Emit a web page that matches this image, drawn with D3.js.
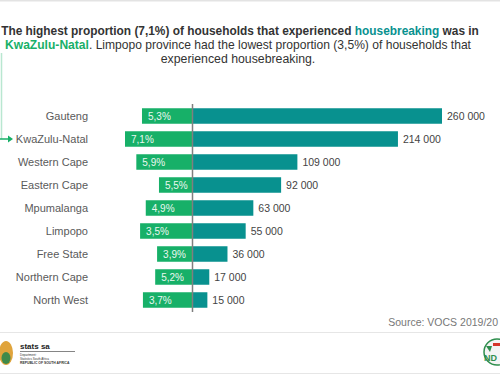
<!DOCTYPE html>
<html>
<head>
<meta charset="utf-8">
<script src="https://cdn.jsdelivr.net/npm/d3@7"></script>
<style>
  body { margin: 0; background: #fff; }
  svg { display: block; font-family: "Liberation Sans", Arial, sans-serif; }
</style>
</head>
<body>
<svg id="chart" width="500" height="375"></svg>
<script>
const provinces = ["Gauteng", "KwaZulu-Natal", "Western Cape", "Eastern Cape", "Mpumalanga",
  "Limpopo", "Free State", "Northern Cape", "North West"];
const households = [260000, 214000, 109000, 92000, 63000, 55000, 36000, 17000, 15000];
const pctLabels = ["5,3%", "7,1%", "5,9%", "5,5%", "4,9%", "3,5%", "3,9%", "5,2%", "3,7%"];
// green bar lengths as drawn (in % units) - they don't all match the labels in the original
const pctBars = [5.3, 7.1, 5.9, 3.5, 4.9, 5.5, 3.7, 3.9, 5.2];
const valueLabels = ["260 000", "214 000", "109 000", "92 000", "63 000", "55 000", "36 000", "17 000", "15 000"];

const green = "#17b068", teal = "#08918f";

const svg = d3.select("#chart");

// frame lines
svg.append("line").attr("x1", 0).attr("x2", 500).attr("y1", 0.5).attr("y2", 0.5)
  .attr("stroke", "#e3e3e3").attr("stroke-width", 2);
svg.append("line").attr("x1", 0).attr("x2", 500).attr("y1", 332.5).attr("y2", 332.5)
  .attr("stroke", "#e6e6e6");
svg.append("line").attr("x1", 0).attr("x2", 500).attr("y1", 373.5).attr("y2", 373.5)
  .attr("stroke", "#e6e6e6");

// title - shrink font so each line takes the width it has in the original
function fit(sel, width, size) {
  const w = sel.node().getComputedTextLength();
  if (w > width) sel.style("font-size", (size * width / w) + "px");
}

const t1 = svg.append("text").attr("x", 240).attr("y", 35).attr("text-anchor", "middle")
  .style("font-size", "12.3px").style("font-weight", "bold").attr("fill", "#333");
t1.append("tspan").text("The highest proportion (7,1%) of households that experienced ");
t1.append("tspan").attr("fill", teal).text("housebreaking");
t1.append("tspan").text(" was in");
fit(t1, 478, 12.3);

const t2 = svg.append("text").attr("x", 238).attr("y", 49).attr("text-anchor", "middle")
  .style("font-size", "12.3px").attr("fill", "#333");
t2.append("tspan").attr("fill", green).style("font-weight", "bold").text("KwaZulu-Natal");
t2.append("tspan").text(". Limpopo province had the lowest proportion (3,5%) of households that");
fit(t2, 466, 12.3);

svg.append("text").attr("x", 238).attr("y", 63).attr("text-anchor", "middle")
  .style("font-size", "12.3px").attr("fill", "#333").text("experienced housebreaking.");

// scales
const y = d3.scalePoint().domain(provinces).range([116, 300]);
const barH = 15.5;
const xRight = d3.scaleLinear().domain([0, 260000]).range([193, 442]);
const xLeft = d3.scaleLinear().domain([0, 7.1]).range([192, 125]);

const rows = provinces.map((p, i) => ({
  name: p, value: households[i], pct: pctBars[i], pctLabel: pctLabels[i], valueLabel: valueLabels[i]
}));

// connector from title to KZN row
svg.append("line").attr("x1", 1.5).attr("x2", 1.5).attr("y1", 53).attr("y2", y("KwaZulu-Natal"))
  .attr("stroke", green).attr("stroke-opacity", 0.3).attr("stroke-width", 1.5);
svg.append("line").attr("x1", 0).attr("x2", 9).attr("y1", y("KwaZulu-Natal")).attr("y2", y("KwaZulu-Natal"))
  .attr("stroke", green).attr("stroke-width", 1.5);
svg.append("path")
  .attr("d", `M8,${y("KwaZulu-Natal") - 3.5}L13,${y("KwaZulu-Natal")}L8,${y("KwaZulu-Natal") + 3.5}Z`)
  .attr("fill", green);

const g = svg.append("g");

// teal bars (households)
g.selectAll(".hh").data(rows).join("rect").attr("class", "hh")
  .attr("x", xRight(0)).attr("y", d => y(d.name) - barH / 2)
  .attr("width", d => xRight(d.value) - xRight(0)).attr("height", barH)
  .attr("fill", teal);

// green bars (proportion)
g.selectAll(".pc").data(rows).join("rect").attr("class", "pc")
  .attr("x", d => xLeft(d.pct)).attr("y", d => y(d.name) - barH / 2)
  .attr("width", d => xLeft(0) - xLeft(d.pct)).attr("height", barH)
  .attr("fill", green);

// centre axis line
g.append("line").attr("x1", 192.5).attr("x2", 192.5).attr("y1", 104).attr("y2", 312)
  .attr("stroke", "#7f7f7f").attr("stroke-width", 1.5);

// labels
g.selectAll(".cat").data(rows).join("text").attr("class", "cat")
  .attr("x", 88).attr("y", d => y(d.name)).attr("dy", "0.35em")
  .attr("text-anchor", "end").style("font-size", "11px").attr("fill", "#5a5a5a")
  .text(d => d.name);

g.selectAll(".pl").data(rows).join("text").attr("class", "pl")
  .attr("x", d => xLeft(d.pct) + 6).attr("y", d => y(d.name)).attr("dy", "0.35em")
  .style("font-size", "10px").attr("fill", "#eaf7f0")
  .text(d => d.pctLabel);

g.selectAll(".vl").data(rows).join("text").attr("class", "vl")
  .attr("x", d => xRight(d.value) + 5).attr("y", d => y(d.name)).attr("dy", "0.35em")
  .style("font-size", "10.5px").attr("fill", "#444")
  .text(d => d.valueLabel);

// source
svg.append("text").attr("x", 498).attr("y", 326).attr("text-anchor", "end").style("font-size", "10.5px")
  .attr("fill", "#777").text("Source: VOCS 2019/20");

// footer logos (simplified)
const lg = svg.append("g");
lg.append("ellipse").attr("cx", 6).attr("cy", 353).attr("rx", 7).attr("ry", 12).attr("fill", "#e0a43c");
lg.append("ellipse").attr("cx", 6).attr("cy", 358).attr("rx", 4.5).attr("ry", 6).attr("fill", "#3f8a4a");
lg.append("text").attr("x", 20).attr("y", 349).style("font-size", "8px").style("font-weight", "bold")
  .attr("fill", "#222").text("stats sa");
lg.append("line").attr("x1", 20).attr("x2", 75).attr("y1", 351.5).attr("y2", 351.5).attr("stroke", "#333").attr("stroke-width", 0.6);
lg.append("text").attr("x", 20).attr("y", 356).style("font-size", "3px").attr("fill", "#333").text("Department:");
lg.append("text").attr("x", 20).attr("y", 359.5).style("font-size", "3px").attr("fill", "#333").text("Statistics South Africa");
lg.append("text").attr("x", 20).attr("y", 363.5).style("font-size", "3.4px").style("font-weight", "bold").attr("fill", "#333").text("REPUBLIC OF SOUTH AFRICA");

const nd = svg.append("g");
nd.append("circle").attr("cx", 497).attr("cy", 352).attr("r", 13).attr("fill", "#f4f4f4").attr("stroke", "#2f8f4e").attr("stroke-width", 1.5);
nd.append("path").attr("d", "M486,346 L492,346 L490,352 Z").attr("fill", "#2f8f4e");
nd.append("rect").attr("x", 493).attr("y", 343).attr("width", 7).attr("height", 3).attr("fill", "#d6362b");
nd.append("text").attr("x", 484).attr("y", 361).style("font-size", "9px").style("font-weight", "bold")
  .attr("fill", "#2f8f4e").text("ND");
</script>
</body>
</html>
